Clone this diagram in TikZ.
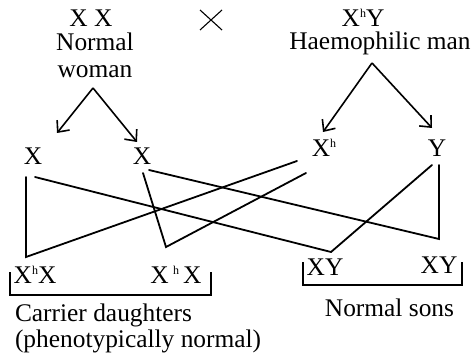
\documentclass[tikz,border=0pt]{standalone}
\usepackage{fontspec}
\setmainfont{Liberation Serif}
\usetikzlibrary{arrows.meta}
\newcommand\hsup{\raisebox{9pt}{\fontsize{12pt}{12pt}\selectfont h}}
\tikzset{
  lbl/.style={inner sep=0pt, outer sep=0pt, anchor=base, font=\fontsize{25.4pt}{27pt}\selectfont},
  cross/.style={line width=1.8pt, line cap=round},
  gamarrow/.style={line width=1.6pt, -{Straight Barb[length=9pt,width=16pt,line width=1.6pt]}},
  bracketline/.style={line width=1.8pt},
  mulsign/.style={line width=1.1pt}
}
\begin{document}
\begin{tikzpicture}[x=1pt,y=-1pt]
\useasboundingbox (0,0) rectangle (473,355);
% parents
\node[lbl] (pf)  at (91,27)  {X X};
\node[lbl] (pf1) at (95,51)  {Normal};
\node[lbl] (pf2) at (95,78)  {woman};
\node[lbl] (pm)  at (363,27) {X\hsup Y};
\node[lbl] (pm1) at (380,50) {Haemophilic man};
% multiplication sign
\coordinate (m1) at (200,10); \coordinate (m2) at (222,30);
\coordinate (m3) at (200,30); \coordinate (m4) at (222,10);
\draw[mulsign] (m1) -- (m2) (m3) -- (m4);
% gametes
\node[lbl] (ga) at (33,165)  {X};
\node[lbl] (gb) at (142,165) {X};
\node[lbl] (gh) at (324,157) {X\hsup};
\node[lbl] (gy) at (437,157) {Y};
% arrows
\coordinate (wa) at (93,88);  \coordinate (wl) at (57,133);  \coordinate (wr) at (137,142);
\coordinate (ma) at (372,63); \coordinate (ml) at (323,132); \coordinate (mr) at (432,128);
\draw[gamarrow] (wa) -- (wl);
\draw[gamarrow] (wa) -- (wr);
\draw[gamarrow] (ma) -- (ml);
\draw[gamarrow] (ma) -- (mr);
% offspring
\node[lbl] (d1) at (35,283)  {X\hsup X};
\node[lbl] (d2) at (176,283) {X\,\hsup\,X};
\node[lbl] (s1) at (325,275) {XY};
\node[lbl] (s2) at (439,273) {XY};
% crossing line vertices
\coordinate (a1) at (26,177);  \coordinate (a2) at (35,177);
\coordinate (b1) at (143,173); \coordinate (b2) at (149,170);
\coordinate (h1) at (297,161); \coordinate (h2) at (306,173);
\coordinate (y1) at (432,165); \coordinate (y2) at (439,165);
\coordinate (v1) at (26,257);  \coordinate (v2) at (166,247);
\coordinate (v3) at (331,252); \coordinate (v4) at (439,239);
\draw[cross] (a1) -- (v1) -- (h1);
\draw[cross] (b1) -- (v2) -- (h2);
\draw[cross] (a2) -- (v3) -- (y1);
\draw[cross] (b2) -- (v4) -- (y2);
% brackets
\coordinate (db1) at (10,272);  \coordinate (db2) at (10,295);
\coordinate (db3) at (211,295); \coordinate (db4) at (211,272);
\draw[bracketline] (db1) -- (db2) -- (db3) -- (db4);
\coordinate (sb1) at (303,262); \coordinate (sb2) at (303,285);
\coordinate (sb3) at (462,285); \coordinate (sb4) at (462,262);
\draw[bracketline] (sb1) -- (sb2) -- (sb3) -- (sb4);
% captions
\node[lbl, anchor=base west] (cd) at (15,321) {Carrier daughters};
\node[lbl, anchor=base west] (pn) at (15,347) {(phenotypically normal)};
\node[lbl] (ns) at (389.5,316) {Normal sons};
\end{tikzpicture}
\end{document}
